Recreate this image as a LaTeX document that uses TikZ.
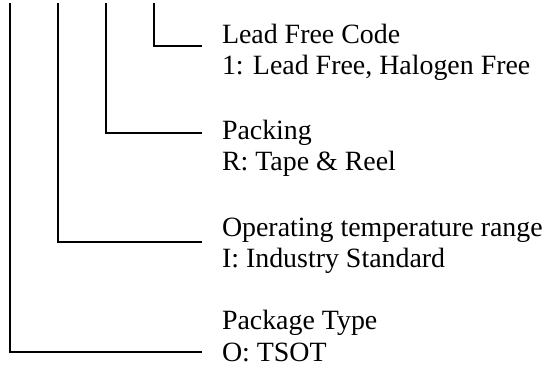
\documentclass[tikz,border=0pt]{standalone}
\usepackage{fontspec}
\setmainfont{Liberation Serif}
\begin{document}
\begin{tikzpicture}[x=1pt,y=-1pt,
  lbl/.style={anchor=base west,inner sep=0pt,outer sep=0pt,font=\fontsize{27.9}{31}\selectfont},
  conn/.style={draw=black,line width=1.6pt}]
\useasboundingbox (0,0) rectangle (547,374);
% tops of vertical lines
\coordinate (t1) at (10,3);
\coordinate (t2) at (58,3);
\coordinate (t3) at (106,3);
\coordinate (t4) at (154,3);
% line ends
\coordinate (e4) at (202,46);
\coordinate (e3) at (202,133);
\coordinate (e2) at (202,242);
\coordinate (e1) at (202,352);
% labels
\node[lbl] (lf1) at (222,44) {Lead Free Code};
\node[lbl] (lf2) at (222,75) {1: Lead Free, Halogen Free};
\node[lbl] (pk1) at (222,140) {Packing};
\node[lbl] (pk2) at (222,171) {R: Tape \& Reel};
\node[lbl] (op1) at (222,237) {Operating temperature range};
\node[lbl] (op2) at (222,268) {I: Industry Standard};
\node[lbl] (pt1) at (222,330) {Package Type};
\node[lbl] (pt2) at (222,362) {O: TSOT};
% connectors
\draw[conn] (t4) |- (e4);
\draw[conn] (t3) |- (e3);
\draw[conn] (t2) |- (e2);
\draw[conn] (t1) |- (e1);
\end{tikzpicture}
\end{document}
